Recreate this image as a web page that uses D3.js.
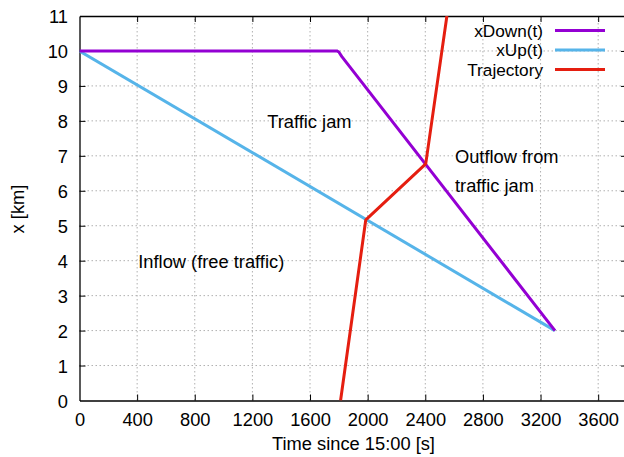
<!DOCTYPE html>
<html><head><meta charset="utf-8">
<script src="https://cdn.jsdelivr.net/npm/d3@7"></script>
<style>body{margin:0;background:#fff}svg{display:block}text{font-family:"Liberation Sans",Arial,sans-serif;fill:#000}</style>
</head><body><svg id="c" width="624" height="457"></svg>
<script>
const xTicks = [0,400,800,1200,1600,2000,2400,2800,3200,3600];
const yTicks = [0,1,2,3,4,5,6,7,8,9,10,11];
const xDownT = [0,1786,1800,1821,3300];
const xDownX = [10,10,9.97,9.84,2];
const xUpT = [0,3300];
const xUpX = [10,2];
const trajT = [1812,1987,2403,2550];
const trajX = [0,5.17,6.77,11];
const seriesNames = ["xDown(t)","xUp(t)","Trajectory"];
const colors = ["#9400d3","#56b4e9","#e51e10"];
const labels = [
  {t:"Traffic jam", x:1303, y:7.806},
  {t:"Outflow from", x:2606, y:6.794},
  {t:"traffic jam", x:2606, y:5.966},
  {t:"Inflow (free traffic)", x:408, y:3.794}
];

const svg = d3.select("#c");
const m = {l:79.5, r:627, t:16, b:400.5};
const x = d3.scaleLinear().domain([0,3800]).range([m.l,m.r]);
const y = d3.scaleLinear().domain([0,11]).range([m.b,m.t]);
const fs = 18.3;
const lfs = 17.2;
const fmt = d3.format("d");

// grid
const g = svg.append("g");
xTicks.slice(1).forEach(v=>g.append("line").attr("x1",x(v)).attr("x2",x(v)).attr("y1",m.b).attr("y2",m.t)
  .attr("stroke","#b0b0b0").attr("stroke-width",1).attr("stroke-dasharray","1.5,2.5"));
yTicks.slice(1,-1).forEach(v=>g.append("line").attr("x1",m.l).attr("x2",m.r).attr("y1",y(v)).attr("y2",y(v))
  .attr("stroke","#b0b0b0").attr("stroke-width",1).attr("stroke-dasharray","1.5,2.5"));

// axes
const xb = svg.append("g").attr("transform",`translate(0,${m.b})`)
  .call(d3.axisBottom(x).tickValues(xTicks).tickFormat(fmt).tickSizeInner(-6).tickSizeOuter(0).tickPadding(12.3));
const xt = svg.append("g").attr("transform",`translate(0,${m.t})`)
  .call(d3.axisTop(x).tickValues(xTicks).tickSizeInner(-6).tickSizeOuter(0).tickFormat(""));
const yl = svg.append("g").attr("transform",`translate(${m.l},0)`)
  .call(d3.axisLeft(y).tickValues(yTicks).tickFormat(fmt).tickSizeInner(-6).tickSizeOuter(0).tickPadding(11.5));
const yr = svg.append("g").attr("transform",`translate(${m.r},0)`)
  .call(d3.axisRight(y).tickValues(yTicks).tickSizeInner(-6).tickSizeOuter(0).tickFormat(""));
[xb,xt,yl,yr].forEach(a=>{
  a.select(".domain").attr("stroke","#000").attr("stroke-width",1.3);
  a.selectAll(".tick line").attr("stroke","#000").attr("stroke-width",1);
  a.selectAll("text").attr("font-size",fs).attr("font-family","Liberation Sans, Arial, sans-serif").attr("fill","#000");
});
xb.selectAll(".tick text").attr("dy","0.71em");
yl.selectAll(".tick text").attr("dy","0.37em");
xb.selectAll(".tick").filter(d=>d===0).select("line").remove();
yl.selectAll(".tick").filter(d=>d===0||d===11).select("line").remove();
yr.selectAll(".tick").filter(d=>d===0||d===11).select("line").remove();
xt.selectAll(".tick").filter(d=>d===0).select("line").remove();

// series
const line = d3.line().x(d=>x(d[0])).y(d=>y(d[1]));
svg.append("clipPath").attr("id","pc").append("rect").attr("x",m.l).attr("y",m.t).attr("width",m.r-m.l).attr("height",m.b-m.t);
const series = [d3.zip(xDownT,xDownX), d3.zip(xUpT,xUpX), d3.zip(trajT,trajX)];
[1,0,2].forEach(i=>svg.append("path").attr("d",line(series[i])).attr("fill","none").attr("stroke",colors[i])
  .attr("stroke-width",3).attr("stroke-linejoin","round").attr("clip-path","url(#pc)"));

// labels
labels.forEach(l=>svg.append("text").attr("x",x(l.x)).attr("y",y(l.y)).attr("text-anchor","start")
  .attr("font-size",fs).text(l.t));

// legend
seriesNames.forEach((n,i)=>{
  const yy = 30.5 + i*19.5;
  svg.append("text").attr("x",543).attr("y",yy).attr("dy","0.36em").attr("text-anchor","end").attr("font-size",lfs).text(n);
  svg.append("line").attr("x1",555).attr("x2",605).attr("y1",yy).attr("y2",yy).attr("stroke",colors[i]).attr("stroke-width",3);
});

// axis titles
svg.append("text").attr("x",353.5).attr("y",450).attr("text-anchor","middle").attr("font-size",fs).text("Time since 15:00 [s]");
svg.append("text").attr("transform",`translate(24,209) rotate(-90)`).attr("text-anchor","middle").attr("font-size",fs).text("x [km]");
</script></body></html>
